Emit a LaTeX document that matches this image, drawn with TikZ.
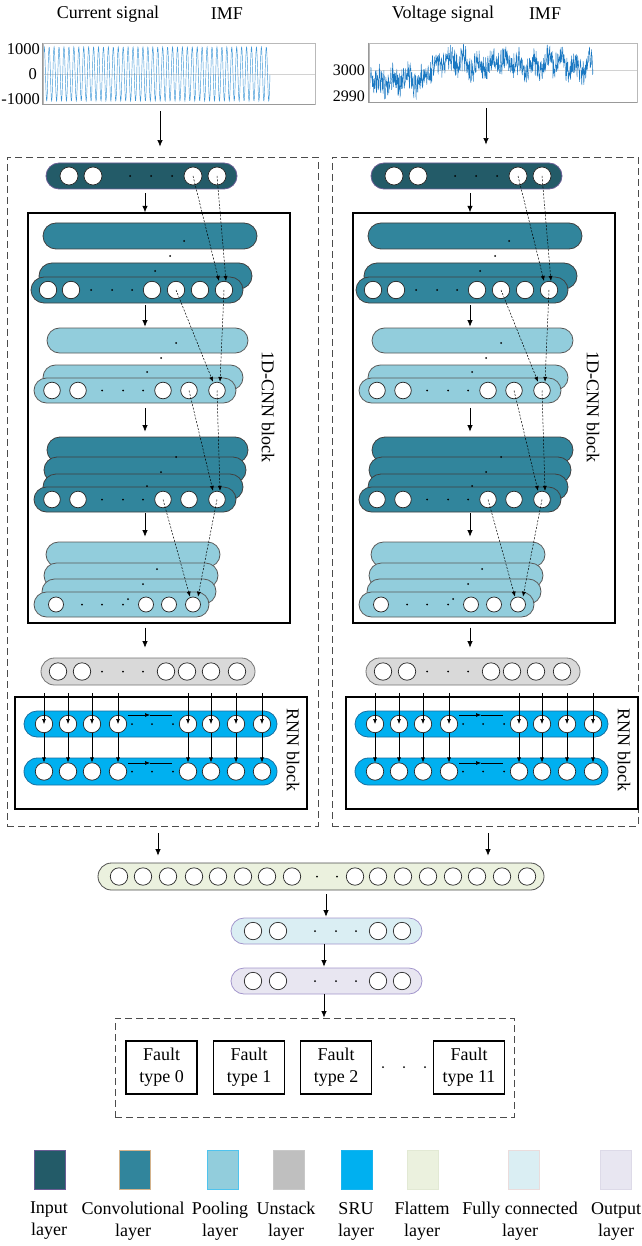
\documentclass[tikz,border=0pt]{standalone}
\usepackage{fontspec}
\setmainfont{Liberation Serif}
\usetikzlibrary{shapes.misc,arrows.meta,calc}

\definecolor{inputc}{HTML}{235B68}
\definecolor{inputb}{HTML}{6A5D94}
\definecolor{convc}{HTML}{31859C}
\definecolor{poolc}{HTML}{92CDDC}
\definecolor{unstc}{HTML}{D9D9D9}
\definecolor{unstl}{HTML}{BFBFBF}
\definecolor{sruc}{HTML}{00B0F0}
\definecolor{srub}{HTML}{1A6E9E}
\definecolor{flatc}{HTML}{EBF1DE}
\definecolor{fcc}{HTML}{DAEEF3}
\definecolor{outc}{HTML}{E8E6F1}
\definecolor{purb}{HTML}{A396CC}
\definecolor{sigl}{HTML}{3D96D6}
\definecolor{sigr}{HTML}{1A78C2}
\definecolor{convb}{HTML}{D4B38C}
\definecolor{poolb}{HTML}{4FC3EE}
\definecolor{unstb}{HTML}{C8C8C8}
\definecolor{srulb}{HTML}{19B4EE}
\definecolor{flatb}{HTML}{E2E9D4}
\definecolor{fcb}{HTML}{EADCDC}
\definecolor{outb}{HTML}{DDDAE8}

\tikzset{
 pill/.style={rounded rectangle, inner sep=0pt, line width=0.8pt},
 inputl/.style={fill=inputc, draw=inputb},
 convl/.style={fill=convc, draw=black!75},
 pooll/.style={fill=poolc, draw=black!65},
 unstackl/.style={fill=unstc, draw=black!55},
 srul/.style={fill=sruc, draw=srub},
 flatl/.style={fill=flatc, draw=black!70},
 fcl/.style={fill=fcc, draw=purb},
 outl/.style={fill=outc, draw=purb},
 neuron/.style={circle, draw=black!85, fill=white, line width=0.7pt, inner sep=0pt, minimum size=#1},
 neuron/.default=18,
 arr/.style={line width=0.7pt, -{Latex[length=6.5pt,width=5.5pt]}},
 sarr/.style={line width=0.6pt, -{Latex[length=5pt,width=4pt]}},
 darr/.style={line width=0.5pt, dash pattern=on 2pt off 1.5pt, -{Latex[length=5pt,width=4pt]}},
 blockbox/.style={draw=black, line width=1.4pt, inner sep=0pt},
 dashbox/.style={draw=black!70, line width=0.9pt, dash pattern=on 7pt off 4pt, inner sep=0pt},
 lbl/.style={font=\fontsize{18}{22}\selectfont, inner sep=0pt, align=center},
 axlbl/.style={font=\fontsize{16.5}{18}\selectfont, inner sep=0pt, anchor=east},
 faultbox/.style={draw=black, line width=1.3pt, minimum width=71, minimum height=53, inner sep=0pt, align=center, font=\fontsize{18}{22}\selectfont},
 plotframe/.style={draw=gray!55, line width=0.8pt, inner sep=0pt},
 legsq/.style={minimum width=31, minimum height=39, inner sep=0pt, line width=0.9pt},
}

% #1 name, #2 style, #3 cx, #4 cy, #5 width, #6 height, #7 circle xs, #8 dot xs, #9 circle size
\newcommand{\mylayer}[9]{%
  \node[pill,#2,minimum width=#5,minimum height=#6] (#1) at (#3,#4) {};
  \foreach \cx [count=\ci] in {#7} {\node[neuron=#9] (#1-\ci) at (\cx,#4) {};}
  \foreach \dx in {#8} {\fill (\dx,#4) circle[radius=1];}
}

\newcommand{\mycolumn}[2]{%
 \coordinate (#1ax) at (145,0);
 \mylayer{#1in}{inputl}{141.5}{176}{191}{26}{69,93,193,217}{130,151,172}{18}
 \node[blockbox, minimum width=262, minimum height=410] (#1cnn) at (159,418) {};
 \node[lbl, rotate=-90] (#1cnnt) at (268,407) {1D-CNN block};
 % conv A
 \node[pill,convl,minimum width=214,minimum height=26] (#1ca1) at (150,236) {};
 \node[pill,convl,minimum width=213,minimum height=26] (#1ca2) at (145.5,276) {};
 \mylayer{#1ca}{convl}{137}{290}{212}{26}{48,71,152,176,200,224}{91,112,132}{17.4}
 \fill (184,241) circle[radius=1] (170,256) circle[radius=1] (155,271) circle[radius=1];
 % pool A
 \node[pill,pooll,minimum width=201,minimum height=25] (#1pa1) at (147.5,340.5) {};
 \node[pill,pooll,minimum width=200,minimum height=25] (#1pa2) at (143,377.5) {};
 \mylayer{#1pa}{pooll}{135}{390.5}{202}{25}{52,78,163,189,217}{102,123,143}{16.6}
 \fill (176,343) circle[radius=1] (161,358) circle[radius=1] (147,372) circle[radius=1];
 % conv B
 \node[pill,convl,minimum width=201,minimum height=26] (#1cb1) at (147.5,450) {};
 \node[pill,convl,minimum width=202,minimum height=26] (#1cb2) at (145,470) {};
 \node[pill,convl,minimum width=200,minimum height=26] (#1cb3) at (143,487) {};
 \mylayer{#1cb}{convl}{135}{499.5}{202}{25}{52,78,163,189,217}{102,123,143}{16.6}
 \fill (176,457) circle[radius=1] (161,472) circle[radius=1] (147,486) circle[radius=1];
 % pool B
 \node[pill,pooll,minimum width=174,minimum height=25] (#1pb1) at (133,554.5) {};
 \node[pill,pooll,minimum width=174,minimum height=25] (#1pb2) at (131,575.5) {};
 \node[pill,pooll,minimum width=174,minimum height=25] (#1pb3) at (129,591.5) {};
 \mylayer{#1pb}{pooll}{121.5}{604.5}{175}{25}{56,146,169,193}{82,102,123}{15}
 \fill (157,569) circle[radius=1] (143,584) circle[radius=1] (128,599) circle[radius=1];
 % arrows
 \draw[arr] ([yshift=-4pt]#1in.south -| #1ax) -- (#1cnn.north -| #1ax);
 \draw[arr] ([yshift=-2pt]#1ca.south -| #1ax) -- ([yshift=1pt]#1pa1.north -| #1ax);
 \draw[arr] ([yshift=-5pt]#1pa.south -| #1ax) -- ([yshift=5pt]#1cb1.north -| #1ax);
 \draw[arr] ([yshift=-1pt]#1cb.south -| #1ax) -- ([yshift=5pt]#1pb1.north -| #1ax);
 % dashed connections
 \draw[darr] (#1in-3.center) -- ([xshift=-5pt]#1ca-6.north);
 \draw[darr] (#1in-4.center) -- ([xshift=2pt]#1ca-6.north);
 \draw[darr] (#1ca-4.center) -- ([xshift=-4pt]#1pa-5.north);
 \draw[darr] (#1ca-6.center) -- ([xshift=3pt]#1pa-5.north);
 \draw[darr] (#1pa-4.center) -- ([xshift=-4pt]#1cb-5.north);
 \draw[darr] (#1pa-5.center) -- ([xshift=3pt]#1cb-5.north);
 \draw[darr] (#1cb-3.center) -- ([xshift=-3pt]#1pb-4.north);
 \draw[darr] (#1cb-5.center) -- ([xshift=5pt]#1pb-4.north);
 % unstack
 \mylayer{#1us}{unstackl}{148}{671.5}{214}{27}{58,82,166,187,211,237}{102,123,143}{17.4}
 \draw[arr] ([yshift=-4pt]#1cnn.south -| #1ax) -- ([yshift=10pt]#1us.north -| #1ax);
 % RNN
 \begin{scope}[xshift=#2]
  \node[blockbox, minimum width=292, minimum height=112] (#1rnn) at (161,753) {};
  \node[lbl, rotate=-90] (#1rnnt) at (293,750) {RNN block};
  \mylayer{#1sa}{srul}{150.5}{724}{253}{26}{44,68,92,118,188,211,236,262}{132,152,173}{17.4}
  \mylayer{#1sb}{srul}{150.5}{771.5}{253}{27}{44,68,92,118,188,211,236,262}{132,152,173}{17.4}
  \coordinate (#1rtop) at (0,693);
  \foreach \k in {1,...,8}{
   \draw[sarr] (#1sa-\k |- #1rtop) -- (#1sa-\k.center);
   \draw[sarr] (#1sa-\k.south) -- (#1sb-\k.north);
  }
  \coordinate (#1ha) at (128,715); \coordinate (#1hm) at (150,715); \coordinate (#1hb) at (172,715);
  \draw[sarr] (#1ha) -- (#1hm); \draw[line width=0.6pt] (#1hm) -- (#1hb);
  \coordinate (#1hc) at (128,763); \coordinate (#1hn) at (150,763); \coordinate (#1hd) at (172,763);
  \draw[sarr] (#1hc) -- (#1hn); \draw[line width=0.6pt] (#1hn) -- (#1hd);
 \end{scope}
}

\begin{document}
\begin{tikzpicture}[x=1pt,y=-1pt]
\useasboundingbox (0,0) rectangle (641,1246);

% top labels
\node[lbl] (t1) at (108,14) {Current signal};
\node[lbl] (t2) at (227,14) {IMF};
\node[lbl] (t3) at (443,14) {Voltage signal};
\node[lbl] (t4) at (545,14) {IMF};

% dashed column boxes
\node[dashbox, minimum width=311, minimum height=669] (Ldash) at (162.5,491.5) {};
\node[dashbox, minimum width=306, minimum height=669] (Rdash) at (485,491.5) {};

% left plot
\draw[gray!35, line width=0.6pt] (43,74) -- (315,74);
\begin{scope}
 \clip (43,43) rectangle (315,104);
 \draw[sigl, line width=0.45pt] plot[domain=0:46, samples=900] ({43+4.935*\x},{74-27*sin(360*mod(\x,1))});
\end{scope}
\node[plotframe, minimum width=272, minimum height=61] (p1) at (179,73.5) {};
\draw[gray!80, line width=0.9pt] (p1.north west) |- (p1.south east);
\node[axlbl] (y1a) at (40,49) {1000};
\node[axlbl] (y1b) at (37,74) {0};
\node[axlbl] (y1c) at (40,99) {-1000};

% right plot
\pgfmathsetseed{7}
\draw[gray!35, line width=0.6pt] (369,70) -- (637,70);
\begin{scope}
 \clip (369,43) rectangle (637,102);
 \draw[sigr, line width=0.45pt] plot[domain=0:224, samples=800]
  ({369+\x},{81 - 17*min(1,max(0,(\x-52)/12)) - 10*exp(-\x/6) + 5*sin(\x*25.7) + 3*sin(\x*7.3) + 4*sin(360*mod(\x*0.4528,1)) + 11*(2*rnd-1)});
\end{scope}
\node[plotframe, minimum width=268, minimum height=59] (p2) at (503,72.5) {};
\draw[gray!80, line width=0.9pt] (p2.north west) |- (p2.south east);
\node[axlbl, font=\fontsize{16}{18}\selectfont] (y2a) at (365,70) {3000};
\node[axlbl, font=\fontsize{16}{18}\selectfont] (y2b) at (365,96) {2990};

\coordinate (pa) at (160,0);
\coordinate (pb) at (486,0);
\draw[arr] ([yshift=-7pt]p1.south -| pa) -- ([yshift=10pt]Ldash.north -| pa);
\draw[arr] ([yshift=-6pt]p2.south -| pb) -- ([yshift=12pt]Rdash.north -| pb);

% columns
\mycolumn{L}{0pt}
\begin{scope}[xshift=325pt]
 \mycolumn{R}{6pt}
\end{scope}

% flatten, FC, output
\mylayer{fl}{flatl}{321}{876.5}{446}{27}{119,143,168,194,218,243,267,292,355,378,403,428,453,477,502,527}{317,337}{17.4}
\mylayer{fc}{fcl}{326.5}{931}{191}{26}{253,278,378,402}{315,336,356}{17.4}
\mylayer{ot}{outl}{326.5}{981}{191}{26}{253,278,378,402}{315,336,356}{17.4}
\node[dashbox, minimum width=399, minimum height=99] (fdash) at (314.5,1067.5) {};

\coordinate (fa1) at (158,0);
\coordinate (fa2) at (488,0);
\draw[arr] ([yshift=-7pt]Ldash.south -| fa1) -- ([yshift=7pt]fl.north -| fa1);
\draw[arr] ([yshift=-7pt]Rdash.south -| fa2) -- ([yshift=7pt]fl.north -| fa2);
\coordinate (cx1) at (326,0);
\coordinate (cx2) at (324,0);
\draw[arr] ([yshift=-4pt]fl.south -| cx1) -- ([yshift=1pt]fc.north -| cx1);
\draw[arr] (fc.south -| cx2) -- ([yshift=1pt]ot.north -| cx2);
\draw[arr] (ot.south -| cx2) -- (fdash.north -| cx2);

% fault boxes
\node[faultbox] (f0) at (161.5,1067.5) {Fault\\type 0};
\node[faultbox] (f1) at (249,1067.5) {Fault\\type 1};
\node[faultbox] (f2) at (336,1067.5) {Fault\\type 2};
\node[faultbox] (f11) at (469,1067.5) {Fault\\type 11};
\fill (383,1067) circle[radius=1] (404,1067) circle[radius=1] (425,1067) circle[radius=1];

% legend
\foreach \sx/\lx/\fc/\bc/\txt [count=\k] in {
  49.6/49/inputc/inputb/Input\\layer,
  135/133/convc/convb/Convolutional\\layer,
  223/220/poolc/poolb/Pooling\\layer,
  289/286/unstl/unstb/Unstack\\layer,
  357/356/sruc/srulb/SRU\\layer,
  423/422/flatc/flatb/Flattem\\layer,
  524/520/fcc/fcb/Fully connected\\layer,
  616/616/outc/outb/Output\\layer}{
  \node[legsq, fill=\fc, draw=\bc] (sq\k) at (\sx,1169.5) {};
  \node[lbl] (lt\k) at (\lx,1221) {\txt};
}
\end{tikzpicture}
\end{document}
